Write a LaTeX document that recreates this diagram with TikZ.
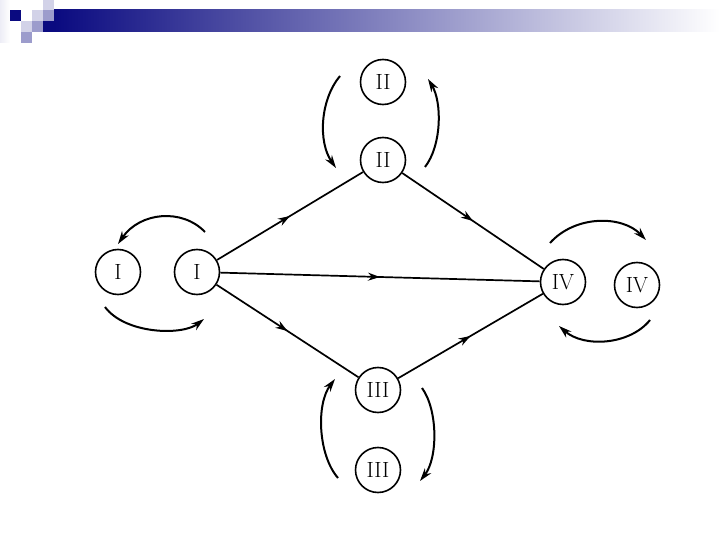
\documentclass[tikz,border=0pt]{standalone}
\usetikzlibrary{arrows.meta,decorations.markings}
\definecolor{navy}{HTML}{0A0A80}
\definecolor{lavA}{HTML}{D2D2E8}
\definecolor{lavB}{HTML}{9C9CCC}
\tikzset{
  state/.style={circle,draw,line width=1.6pt,minimum size=45pt,inner sep=0pt,font=\fontsize{22}{22}\selectfont},
  flow/.style={line width=1.7pt,postaction={decorate},
    decoration={markings,mark=at position 0.5 with {\arrow{Stealth[length=12pt,width=8pt]}}}},
  swap/.style={line width=2pt,-{Stealth[length=13pt,width=8pt]}},
  sq/.style={draw=none}
}
\begin{document}
\begin{tikzpicture}[x=1pt,y=-1pt]
\useasboundingbox (0,0) rectangle (720,540);
% header decoration
\shade[left color=navy,right color=white,shading angle=90] (54,10) rectangle (720,32);
\fill[left color=lavA!40,right color=white] (0,0) rectangle (10,43);
\fill[navy] (43,21) rectangle (54,32);
\fill[lavA] (43,0) rectangle (54,10);
\fill[navy] (10,10) rectangle (21,21);
\fill[lavA] (32,10) rectangle (43,21);
\fill[lavB] (43,10) rectangle (54,21);
\fill[lavA] (21,21) rectangle (32,32);
\fill[lavB] (32,21) rectangle (43,32);
\fill[lavB] (21,32) rectangle (32,43);
% nodes
\node[state] (I1) at (118,272) {I};
\node[state] (I2) at (197,272) {I};
\node[state] (II1) at (383,82) {II};
\node[state] (II2) at (383,160) {II};
\node[state] (III2) at (378,390) {III};
\node[state] (III1) at (378,470) {III};
\node[state] (IV2) at (563,282) {IV};
\node[state] (IV1) at (637,285) {IV};
% main edges
\draw[flow] (I2) -- (II2);
\draw[flow] (I2) -- (IV2);
\draw[flow] (I2) -- (III2);
\draw[flow] (II2) -- (IV2);
\draw[flow] (III2) -- (IV2);
% curved arrow end points
\coordinate (a1) at (205,232); \coordinate (a2) at (118,244);
\coordinate (b1) at (105,307); \coordinate (b2) at (204,319);
\coordinate (c1) at (340,76);  \coordinate (c2) at (336,168);
\coordinate (d1) at (425,167); \coordinate (d2) at (428,79);
\coordinate (e1) at (338,478); \coordinate (e2) at (335,379);
\coordinate (f1) at (422,388); \coordinate (f2) at (420,481);
\coordinate (g1) at (550,243); \coordinate (g2) at (646,240);
\coordinate (h1) at (650,320); \coordinate (h2) at (559,326);
\draw[swap] (a1) .. controls (182,208) and (140,212) .. (a2);
\draw[swap] (b1) .. controls (125,334) and (182,336) .. (b2);
\draw[swap] (c1) .. controls (320,100) and (318,142) .. (c2);
\draw[swap] (d1) .. controls (442,145) and (442,102) .. (d2);
\draw[swap] (e1) .. controls (318,455) and (316,404) .. (e2);
\draw[swap] (f1) .. controls (438,410) and (438,458) .. (f2);
\draw[swap] (g1) .. controls (575,215) and (622,215) .. (g2);
\draw[swap] (h1) .. controls (630,345) and (584,348) .. (h2);
\end{tikzpicture}
\end{document}
